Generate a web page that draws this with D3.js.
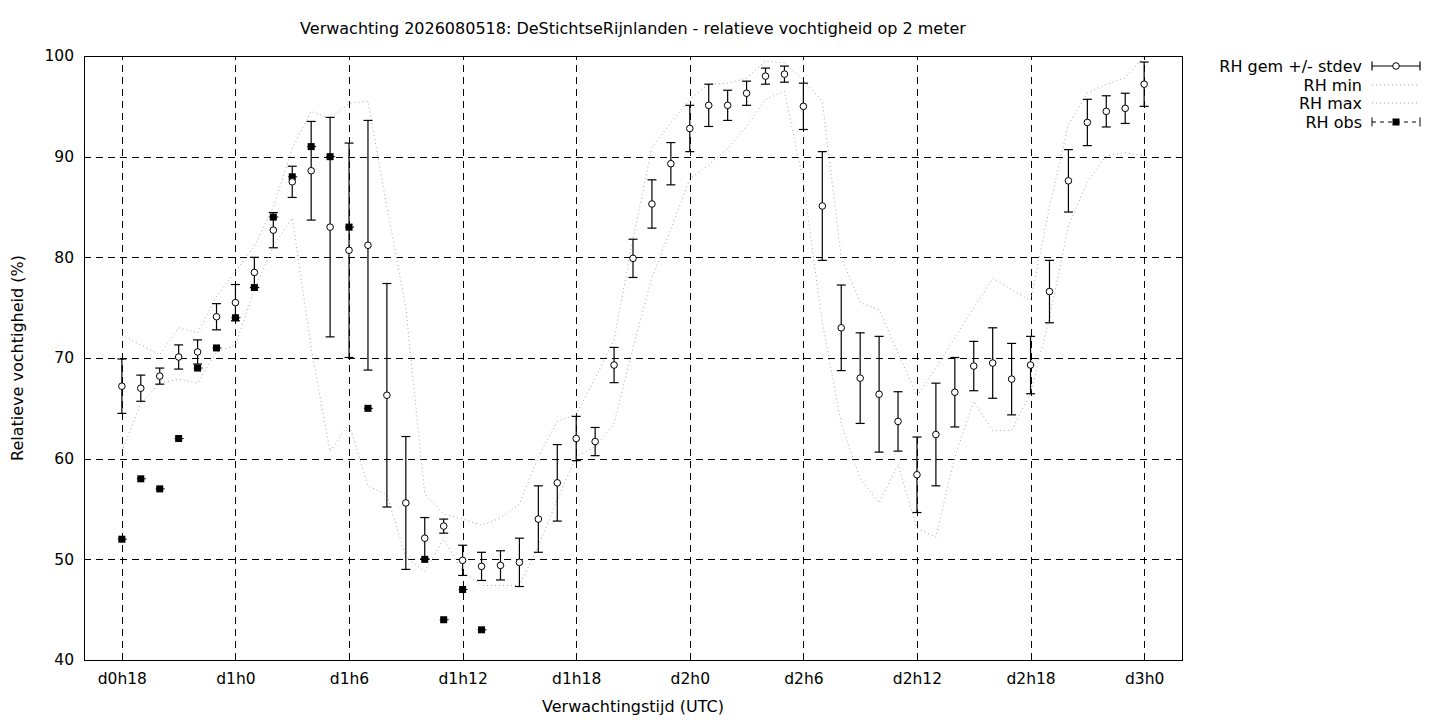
<!DOCTYPE html>
<html>
<head>
<meta charset="utf-8">
<script src="https://cdn.jsdelivr.net/npm/d3@7"></script>
<style>
  html, body { margin: 0; padding: 0; background: #fff; }
  svg { display: block; }
  text { font-family: "DejaVu Sans", sans-serif; fill: #000; }
</style>
</head>
<body>
<div id="chart"></div>
<script>
// forecast hour offsets (hours after d0h0)
const hours = [18, 19, 20, 21, 22, 23, 24, 25, 26, 27, 28, 29, 30, 31, 32, 33, 34, 35, 36,
  37, 38, 39, 40, 41, 42, 43, 44, 45, 46, 47, 48, 49, 50, 51, 52, 53, 54, 55, 56, 57, 58,
  59, 60, 61, 62, 63, 64, 65, 66, 67, 68, 69, 70, 71, 72];

const rhMean = [67.2, 67.0, 68.2, 70.1, 70.6, 74.1, 75.5, 78.5, 82.7, 87.5, 88.6, 83.0, 80.7,
  81.2, 66.3, 55.6, 52.1, 53.3, 49.9, 49.3, 49.4, 49.7, 54.0, 57.6, 62.0, 61.7, 69.3, 79.9,
  85.3, 89.3, 92.8, 95.1, 95.1, 96.3, 98.0, 98.2, 95.0, 85.1, 73.0, 68.0, 66.4, 63.7, 58.4,
  62.4, 66.6, 69.2, 69.5, 67.9, 69.3, 76.6, 87.6, 93.4, 94.5, 94.8, 97.2];

const rhStdev = [2.7, 1.3, 0.8, 1.2, 1.2, 1.3, 1.8, 1.5, 1.75, 1.55, 4.9, 10.9, 10.65, 12.4,
  11.1, 6.6, 2.05, 0.7, 1.5, 1.4, 1.45, 2.4, 3.3, 3.8, 2.2, 1.4, 1.75, 1.9, 2.4, 2.1, 2.3,
  2.1, 1.5, 1.2, 0.8, 0.8, 2.3, 5.4, 4.25, 4.5, 5.75, 2.95, 3.75, 5.1, 3.45, 2.45, 3.5, 3.55,
  2.85, 3.1, 3.1, 2.3, 1.55, 1.5, 2.2];

const rhMin = [60.7, 65.5, 67.5, 67.9, 67.5, 70.6, 71.3, 76.8, 81.1, 83.9, 71.0, 60.7, 63.5,
  57.3, 56.4, 50.2, 48.8, 52.0, 48.8, 47.4, 47.4, 47.4, 51.3, 55.9, 60.2, 61.2, 63.5, 71.0,
  78.0, 82.8, 87.8, 89.2, 90.8, 93.0, 95.7, 96.5, 87.5, 73.5, 63.5, 58.0, 55.6, 59.4, 53.1,
  52.2, 60.2, 65.7, 62.8, 62.8, 66.5, 74.0, 83.1, 87.5, 90.1, 90.4, 90.1];

const rhMax = [72.3, 71.3, 70.3, 73.0, 72.5, 76.1, 78.6, 81.1, 85.0, 90.8, 94.5, 93.8, 95.3,
  95.5, 85.0, 75.0, 56.5, 54.5, 54.0, 53.4, 54.1, 55.5, 60.2, 63.7, 64.4, 68.0, 71.8, 81.8,
  90.9, 93.4, 95.7, 97.2, 97.3, 97.8, 99.5, 99.3, 97.6, 95.5, 80.0, 75.5, 74.8, 70.5, 66.2,
  69.0, 72.0, 75.0, 77.9, 76.8, 75.7, 85.0, 93.2, 96.3, 97.2, 97.8, 100.0];

// observations only for the first hours
const obsHours = [18, 19, 20, 21, 22, 23, 24, 25, 26, 27, 28, 29, 30, 31, 34, 35, 36, 37];
const rhObs = [52, 58, 57, 62, 69, 71, 74, 77, 84, 88, 91, 90, 83, 65, 50, 44, 47, 43];

const xTicks = [18, 24, 30, 36, 42, 48, 54, 60, 66, 72];
const xTickLabels = ['d0h18', 'd1h0', 'd1h6', 'd1h12', 'd1h18', 'd2h0', 'd2h6', 'd2h12', 'd2h18', 'd3h0'];
const yTicks = [40, 50, 60, 70, 80, 90, 100];

const legendLabels = ['RH gem +/- stdev', 'RH min', 'RH max', 'RH obs'];

const W = 1440, H = 720;
const plot = { left: 84, right: 1182, top: 56, bottom: 660 };
const fontSize = 16;
const tickFontSize = 15.5;
const bandColor = '#a8a8a8';

const svg = d3.select('#chart').append('svg')
  .attr('width', W)
  .attr('height', H);

const x = d3.scaleLinear().domain([16, 74]).range([plot.left, plot.right]);
const y = d3.scaleLinear().domain([40, 100]).range([plot.bottom, plot.top]);

// grid
const grid = svg.append('g')
  .attr('stroke', '#000')
  .attr('stroke-width', 1)
  .attr('stroke-dasharray', '7,5')
  .attr('shape-rendering', 'crispEdges');

grid.selectAll('line.gx')
  .data(xTicks)
  .join('line')
  .attr('x1', d => Math.round(x(d)) + 0.5)
  .attr('x2', d => Math.round(x(d)) + 0.5)
  .attr('y1', plot.bottom)
  .attr('y2', plot.top);

grid.selectAll('line.gy')
  .data(yTicks.slice(1, -1))
  .join('line')
  .attr('x1', plot.left)
  .attr('x2', plot.right)
  .attr('y1', d => Math.round(y(d)) + 0.5)
  .attr('y2', d => Math.round(y(d)) + 0.5);

// axes
const xAxis = svg.append('g')
  .attr('transform', `translate(0,${plot.bottom})`)
  .call(d3.axisBottom(x).tickValues(xTicks)
    .tickFormat((d, i) => xTickLabels[i])
    .tickSize(0).tickPadding(13));

const yAxis = svg.append('g')
  .attr('transform', `translate(${plot.left},0)`)
  .call(d3.axisLeft(y).tickValues(yTicks).tickSize(0).tickPadding(10));

[xAxis, yAxis].forEach(a => {
  a.select('.domain').remove();
  a.selectAll('text')
    .style('font-family', '"DejaVu Sans", sans-serif')
    .style('font-size', tickFontSize + 'px')
    .attr('fill', '#000');
});

// border
svg.append('rect')
  .attr('x', plot.left + 0.5)
  .attr('y', plot.top + 0.5)
  .attr('width', plot.right - plot.left)
  .attr('height', plot.bottom - plot.top)
  .attr('fill', 'none')
  .attr('stroke', '#000')
  .attr('stroke-width', 1)
  .attr('shape-rendering', 'crispEdges');

// min / max lines
const line = d3.line()
  .x((d, i) => x(hours[i]))
  .y(d => y(d));

[rhMin, rhMax].forEach(series => {
  svg.append('path')
    .datum(series)
    .attr('d', line)
    .attr('fill', 'none')
    .attr('stroke', bandColor)
    .attr('stroke-width', 1)
    .attr('stroke-dasharray', '1,3');
});

// observations
const obs = svg.append('g');
obs.selectAll('line')
  .data(rhObs)
  .join('line')
  .attr('x1', (d, i) => x(obsHours[i]) - 4)
  .attr('x2', (d, i) => x(obsHours[i]) + 5)
  .attr('y1', d => y(d))
  .attr('y2', d => y(d))
  .attr('stroke', '#000')
  .attr('stroke-width', 1);
obs.selectAll('rect')
  .data(rhObs)
  .join('rect')
  .attr('x', (d, i) => x(obsHours[i]) - 3.5)
  .attr('y', d => y(d) - 3.5)
  .attr('width', 7)
  .attr('height', 7)
  .attr('fill', '#000');

// mean with error bars
const cap = 4.5;
const eb = svg.append('g')
  .attr('stroke', '#000')
  .attr('stroke-width', 1.2)
  .selectAll('g')
  .data(rhMean)
  .join('g');

eb.append('line')
  .attr('x1', (d, i) => x(hours[i]))
  .attr('x2', (d, i) => x(hours[i]))
  .attr('y1', (d, i) => y(d - rhStdev[i]))
  .attr('y2', (d, i) => y(d + rhStdev[i]));
eb.append('line')
  .attr('x1', (d, i) => x(hours[i]) - cap)
  .attr('x2', (d, i) => x(hours[i]) + cap)
  .attr('y1', (d, i) => y(d - rhStdev[i]))
  .attr('y2', (d, i) => y(d - rhStdev[i]));
eb.append('line')
  .attr('x1', (d, i) => x(hours[i]) - cap)
  .attr('x2', (d, i) => x(hours[i]) + cap)
  .attr('y1', (d, i) => y(d + rhStdev[i]))
  .attr('y2', (d, i) => y(d + rhStdev[i]));
eb.append('circle')
  .attr('cx', (d, i) => x(hours[i]))
  .attr('cy', d => y(d))
  .attr('r', 3.3)
  .attr('fill', '#fff')
  .attr('stroke-width', 1);

// titles
svg.append('text')
  .attr('x', (plot.left + plot.right) / 2)
  .attr('y', 34)
  .attr('text-anchor', 'middle')
  .style('font-size', fontSize + 'px')
  .text('Verwachting 2026080518: DeStichtseRijnlanden - relatieve vochtigheid op 2 meter');

svg.append('text')
  .attr('x', (plot.left + plot.right) / 2)
  .attr('y', 712)
  .attr('text-anchor', 'middle')
  .style('font-size', fontSize + 'px')
  .text('Verwachtingstijd (UTC)');

svg.append('text')
  .attr('transform', `translate(23,${(plot.top + plot.bottom) / 2}) rotate(-90)`)
  .attr('text-anchor', 'middle')
  .style('font-size', fontSize + 'px')
  .text('Relatieve vochtigheid (%)');

// legend
const legend = svg.append('g');
const rowY = [66, 85, 103, 122];
const sx0 = 1372, sx1 = 1420, smid = 1396;

legend.selectAll('text')
  .data(legendLabels)
  .join('text')
  .attr('x', 1362)
  .attr('y', (d, i) => rowY[i])
  .attr('dy', '0.35em')
  .attr('text-anchor', 'end')
  .style('font-size', fontSize + 'px')
  .text(d => d);

function sampleCaps(g, yy) {
  g.append('line').attr('x1', sx0).attr('x2', sx0).attr('y1', yy - cap).attr('y2', yy + cap);
  g.append('line').attr('x1', sx1).attr('x2', sx1).attr('y1', yy - cap).attr('y2', yy + cap);
}

const s0 = legend.append('g').attr('stroke', '#000').attr('stroke-width', 1.2);
s0.append('line').attr('x1', sx0).attr('x2', sx1).attr('y1', rowY[0]).attr('y2', rowY[0]);
sampleCaps(s0, rowY[0]);
s0.append('circle').attr('cx', smid).attr('cy', rowY[0]).attr('r', 3.3)
  .attr('fill', '#fff').attr('stroke-width', 1);

[1, 2].forEach(k => {
  legend.append('line')
    .attr('x1', sx0).attr('x2', sx1)
    .attr('y1', rowY[k]).attr('y2', rowY[k])
    .attr('stroke', bandColor)
    .attr('stroke-dasharray', '1,3');
});

const s3 = legend.append('g').attr('stroke', '#000').attr('stroke-width', 1);
s3.append('line').attr('x1', sx0).attr('x2', sx1).attr('y1', rowY[3]).attr('y2', rowY[3])
  .attr('stroke-dasharray', '4,4');
sampleCaps(s3, rowY[3]);
s3.append('rect').attr('x', smid - 3.5).attr('y', rowY[3] - 3.5)
  .attr('width', 7).attr('height', 7).attr('fill', '#000').attr('stroke', 'none');
</script>
</body>
</html>
